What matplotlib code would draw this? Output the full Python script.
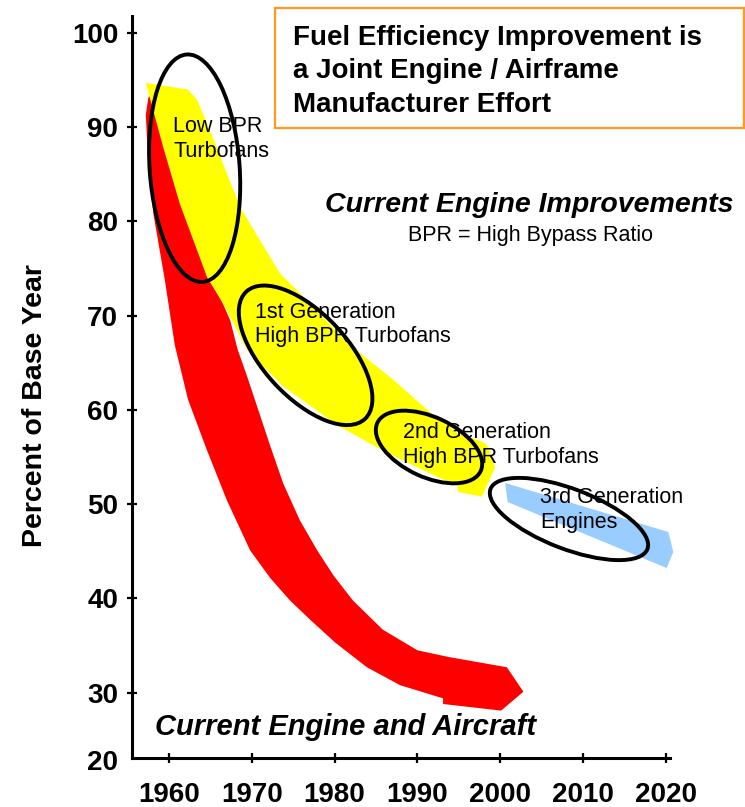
import matplotlib
matplotlib.use("Agg")
import matplotlib.pyplot as plt
from matplotlib.patches import Polygon, Ellipse, Rectangle
from matplotlib.transforms import ScaledTranslation, blended_transform_factory

plt.rcParams['font.family'] = ['Liberation Sans', 'DejaVu Sans']

# ---------------- data (year, percent of base year) ----------------
# Red band "Current Engine and Aircraft" (outline, clockwise)
red_years = [1957.5, 1957.2, 1957.4, 1958.1, 1959.5, 1960.7, 1962.3, 1964.6, 1967.0,
             1969.8, 1972.2, 1974.6, 1977.1, 1980.1, 1983.9, 1987.9, 1993.1,
             1993.1, 2000.1, 2002.8, 2000.8, 1993.7,
             1990.0, 1985.8, 1982.2, 1979.9, 1977.9, 1975.8, 1973.8, 1972.3,
             1970.9, 1969.5, 1968.3, 1967.4, 1966.2, 1964.6, 1963.1, 1961.1,
             1959.5, 1958.4, 1957.7]
red_values = [93.1, 91.3, 87.9, 80.9, 73.8, 66.9, 61.1, 55.7, 50.4,
              45.1, 42.2, 39.8, 37.7, 35.3, 32.7, 30.8, 29.4,
              28.8, 28.1, 30.1, 32.7, 33.8,
              34.5, 36.7, 39.8, 42.4, 45.1, 48.3, 52.2, 56.0,
              59.7, 63.4, 66.4, 69.5, 71.9, 74.1, 79.1, 85.4,
              90.7, 93.2, 93.3]

# Yellow band "Current Engine Improvements"
yellow_years = [1957.2, 1962.3, 1963.4, 1965.3, 1968.6, 1971.0, 1973.4, 1975.8,
                1980.7, 1983.7, 1987.1, 1991.2, 1994.8, 1997.9, 1998.4, 1999.4,
                1998.8, 1997.8, 1994.9, 1994.8, 1992.4, 1985.8, 1980.3, 1973.8,
                1969.4, 1968.2, 1966.8, 1964.6, 1961.3, 1959.3]
yellow_values = [94.7, 94.0, 92.9, 88.9, 81.5, 78.0, 74.5, 72.4,
                 67.9, 65.6, 63.2, 60.0, 57.6, 56.6, 56.3, 53.9,
                 52.8, 50.8, 51.3, 52.0, 52.9, 55.7, 58.4, 62.5,
                 66.4, 68.5, 70.9, 74.1, 81.9, 87.9]

# Blue arrow "3rd Generation Engines"
blue_years = [2000.6, 2020.3, 2020.9, 2020.1, 2000.9]
blue_values = [52.25, 47.05, 44.93, 43.23, 50.23]

# Ellipse centres (year, percent)
ellipse_years = [1963.1, 1976.5, 1991.4, 2008.3]
ellipse_values = [85.65, 65.8, 56.07, 48.43]

x_ticks = [1960, 1970, 1980, 1990, 2000, 2010, 2020]
x_tick_labels = ['1960', '1970', '1980', '1990', '2000', '2010', '2020']
y_ticks = [30, 40, 50, 60, 70, 80, 90, 100]
y_tick_labels = ['30', '40', '50', '60', '70', '80', '90', '100']

W, H = 745, 807
fig = plt.figure(figsize=(W / 100, H / 100), dpi=100)
ax = fig.add_axes([131.7 / W, 1 - 758.3 / H, (670 - 131.7) / W, (758.3 - 16) / H])
ax.set_xlim(1955.5, 2020.5)
ax.set_ylim(23.04, 101.8)

for s in ['top', 'right']:
    ax.spines[s].set_visible(False)
for s in ['left', 'bottom']:
    ax.spines[s].set_linewidth(2.2)

ax.set_xticks(x_ticks)
ax.set_xticklabels(x_tick_labels)
ax.set_yticks(y_ticks)
ax.set_yticklabels(y_tick_labels)
ax.tick_params(axis='both', direction='inout', length=6.5, width=1.6,
               labelsize=20)
ax.tick_params(axis='x', pad=14.0)
ax.tick_params(axis='y', pad=6.5)
for lab in ax.get_xticklabels() + ax.get_yticklabels():
    lab.set_fontweight('bold')

# "20" label at the bottom corner
trans_y = blended_transform_factory(ax.transAxes, ax.transData)
ax.text((118 - 131.7) / (670 - 131.7), 22.5, '20', transform=trans_y,
        ha='right', va='center', fontsize=20, fontweight='bold', clip_on=False)

# bands
ax.add_patch(Polygon(list(zip(red_years, red_values)), closed=True,
                     facecolor='#FF0000', edgecolor='none', zorder=2, clip_on=False))
ax.add_patch(Polygon(list(zip(yellow_years, yellow_values)), closed=True,
                     facecolor='#FFFF00', edgecolor='none', zorder=3, clip_on=False))
ax.add_patch(Polygon(list(zip(blue_years, blue_values)), closed=True,
                     facecolor='#99CCFF', edgecolor='none', zorder=3, clip_on=False))

# ellipses (sizes in inches, angle in degrees)
ell_sizes = [(0.90, 2.28, 4), (1.74, 0.84, -47), (1.14, 0.60, -25), (1.68, 0.60, -21)]
for (ex, ey), (w, h, a) in zip(zip(ellipse_years, ellipse_values), ell_sizes):
    tr = fig.dpi_scale_trans + ScaledTranslation(ex, ey, ax.transData)
    e = Ellipse((0, 0), w, h, angle=a, transform=tr, facecolor='none',
                edgecolor='black', linewidth=2.8, zorder=6, clip_on=False)
    fig.add_artist(e)


def fxy(px, py):
    return px / W, 1 - py / H


def ftext(px, py, s, **kw):
    fig.text(*fxy(px, py), s, va='baseline', ha=kw.pop('ha', 'left'), zorder=5, **kw)


LBL = 15.5
ftext(173, 132, 'Low BPR', fontsize=LBL)
ftext(173, 157, 'Turbofans', fontsize=LBL)
ftext(255, 318, '1st Generation', fontsize=LBL)
ftext(255, 342, 'High BPR Turbofans', fontsize=LBL)
ftext(403, 438, '2nd Generation', fontsize=LBL)
ftext(403, 463, 'High BPR Turbofans', fontsize=LBL)
ftext(540, 503, '3rd Generation', fontsize=LBL)
ftext(540, 528, 'Engines', fontsize=LBL)

ftext(325, 212, 'Current Engine Improvements', fontsize=20.5, fontweight='bold',
      fontstyle='italic')
ftext(531, 241, 'BPR = High Bypass Ratio', fontsize=15.5, ha='center')
ftext(155, 735, 'Current Engine and Aircraft', fontsize=21, fontweight='bold',
      fontstyle='italic')

# title box
fig.add_artist(Rectangle(fxy(275, 128), (744 - 275) / W, (128 - 8.3) / H,
                         transform=fig.transFigure, facecolor='white',
                         edgecolor='#FF9922', linewidth=1.6, zorder=4))
ftext(293, 45, 'Fuel Efficiency Improvement is', fontsize=20, fontweight='bold')
ftext(293, 78, 'a Joint Engine / Airframe', fontsize=20, fontweight='bold')
ftext(293, 112, 'Manufacturer Effort', fontsize=20, fontweight='bold')

# y label
fig.text(*fxy(35, 406), 'Percent of Base Year', rotation=90, ha='center',
         va='center', fontsize=20.5, fontweight='bold')

fig.savefig('out.png', dpi=100)
